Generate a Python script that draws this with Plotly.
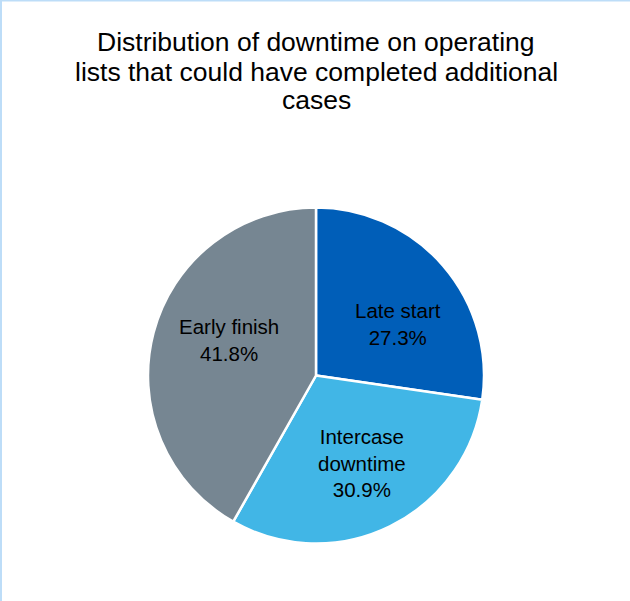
import plotly.graph_objects as go

# Downtime categories and their share of total downtime (%)
categories = ["Late start", "Intercase downtime", "Early finish"]
text_labels = ["Late start", "Intercase<br>downtime", "Early finish"]
shares = [27.3, 30.9, 41.8]
colors = ["#005EB8", "#41B6E6", "#768692"]

title_lines = [
    "Distribution of downtime on operating",
    "lists that could have completed additional",
    "cases",
]

W, H = 630, 601
cx, cy, r = 316, 375.5, 168
FONT = "Liberation Sans, Arial"

fig = go.Figure(
    go.Pie(
        labels=categories,
        values=shares,
        textinfo="none",
        marker=dict(colors=colors, line=dict(color="#FFFFFF", width=2.5)),
        sort=False,
        direction="clockwise",
        rotation=0,
        showlegend=False,
        hoverinfo="label+percent",
        domain=dict(
            x=[(cx - r) / W, (cx + r) / W],
            y=[(H - cy - r) / H, (H - cy + r) / H],
        ),
    )
)

# Slice labels (category + share) placed inside each slice
label_pos = [(398, 324), (362, 463), (229, 340)]
annotations = [
    dict(
        text=f"{txt}<br>{val:.1f}%",
        x=px / W,
        y=1 - py / H,
        xref="paper",
        yref="paper",
        xanchor="center",
        yanchor="middle",
        align="center",
        showarrow=False,
        font=dict(family=FONT, size=20.5, color="#000000"),
    )
    for txt, val, (px, py) in zip(text_labels, shares, label_pos)
]

# Title drawn line by line for tight line spacing
title_y = [42, 71.5, 100]
annotations += [
    dict(
        text=line,
        x=316 / W,
        y=1 - yy / H,
        xref="paper",
        yref="paper",
        xanchor="center",
        yanchor="middle",
        showarrow=False,
        font=dict(family=FONT, size=26.5, color="#000000"),
    )
    for line, yy in zip(title_lines, title_y)
]

fig.update_layout(
    width=W,
    height=H,
    margin=dict(l=0, r=0, t=0, b=0),
    paper_bgcolor="#FFFFFF",
    font=dict(family=FONT, color="#000000"),
    annotations=annotations,
    shapes=[
        dict(type="line", xref="paper", yref="paper", x0=0, x1=1, y0=1, y1=1,
             line=dict(color="#BDDDF8", width=3)),
        dict(type="line", xref="paper", yref="paper", x0=0, x1=0, y0=0, y1=1,
             line=dict(color="#BDDDF8", width=4)),
    ],
)

fig.write_html("out.html")
